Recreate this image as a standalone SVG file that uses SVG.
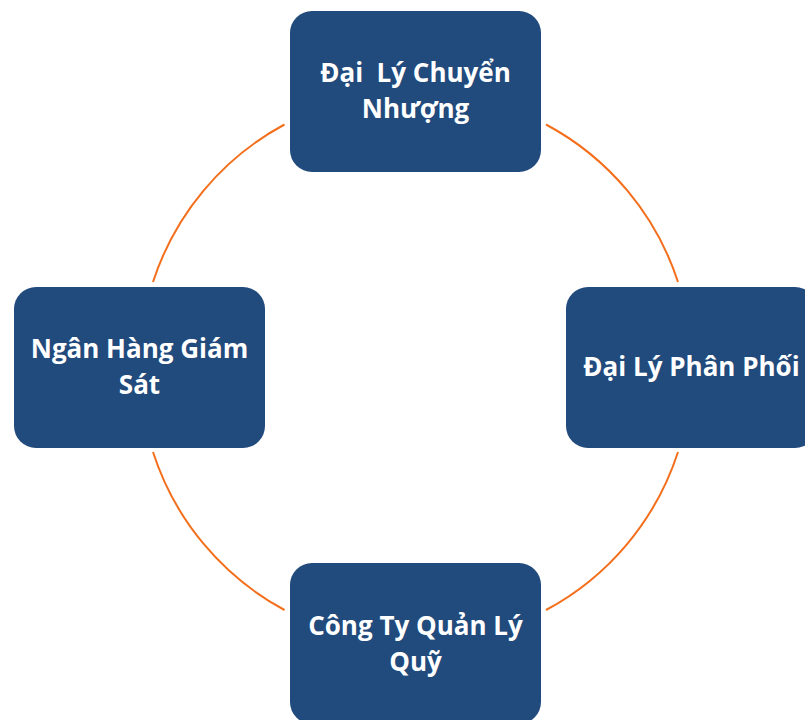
<svg xmlns="http://www.w3.org/2000/svg" width="805" height="720" viewBox="0 0 805 720">
<style>
.box{fill:#214A7D;}
.lbl{font-family:"Open Sans","Noto Sans",sans-serif;font-weight:bold;font-size:26px;fill:#ffffff;text-anchor:middle;white-space:pre;}
.arc{fill:none;stroke:#F36F1C;stroke-width:2;}
</style>
<rect width="805" height="720" fill="#ffffff"/>
<g id="connectors">
<path class="arc" d="M284.5,124.5 A275.5,275.5 0 0 0 153,282"/>
<path class="arc" d="M546,124.5 A275.5,275.5 0 0 1 678,282"/>
<path class="arc" d="M678,452 A275.5,275.5 0 0 1 546,610"/>
<path class="arc" d="M284.5,610 A275.5,275.5 0 0 1 153,452"/>
</g>
<g id="node-top">
<rect class="box" x="290" y="11" width="251" height="161" rx="22"/>
<text class="lbl" x="415.5" xml:space="preserve"><tspan x="415.5" y="82">Đại  Lý Chuyển</tspan><tspan x="415.5" y="118">Nhượng</tspan></text>
</g>
<g id="node-left">
<rect class="box" x="14" y="287" width="251" height="161" rx="22"/>
<text class="lbl" x="139.5"><tspan x="139.5" y="358">Ngân Hàng Giám</tspan><tspan x="139.5" y="394">Sát</tspan></text>
</g>
<g id="node-right">
<rect class="box" x="566" y="287" width="251" height="161" rx="22"/>
<text class="lbl" x="691.5" y="376">Đại Lý Phân Phối</text>
</g>
<g id="node-bottom">
<rect class="box" x="290" y="563" width="251" height="161" rx="22"/>
<text class="lbl" x="415.5"><tspan x="415.5" y="635">Công Ty Quản Lý</tspan><tspan x="415.5" y="671">Quỹ</tspan></text>
</g>
</svg>
